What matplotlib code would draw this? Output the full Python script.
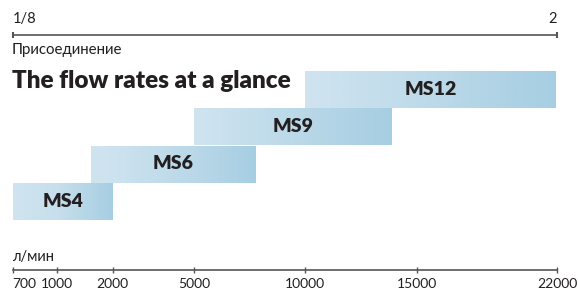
"""Flow-rate overview: MS4..MS12 ranges on a piecewise flow axis."""

import matplotlib
matplotlib.use("Agg")
import matplotlib.pyplot as plt
import numpy as np
from matplotlib.colors import LinearSegmentedColormap

# ---------------------------------------------------------------------------
# Data
# ---------------------------------------------------------------------------
MODELS = ["MS4", "MS6", "MS9", "MS12"]
FLOW_MIN = [700, 1600, 5000, 10000]      # l/min
FLOW_MAX = [2000, 7800, 13900, 22000]    # l/min

FLOW_TICKS = [700, 1000, 2000, 5000, 10000, 15000, 22000]
CONN_TICKS = [0, 1]
CONN_LABELS = ["1/8", "2"]

TITLE = "The flow rates at a glance"
CONN_NAME = "Присоединение"
FLOW_UNIT = "л/мин"

# ---------------------------------------------------------------------------
# Style
# ---------------------------------------------------------------------------
FONT = ["Lato", "Noto Sans", "DejaVu Sans"]
TEXT = "#231f20"
LINE = "#555555"
GRAD = LinearSegmentedColormap.from_list("bar", ["#d0e4f0", "#a6cee2"])

# the drawing uses a hand-made, piecewise flow axis; anchor positions in px
TICK_PX = [12.7, 57.3, 112.7, 194.0, 305.3, 416.7, 557.3]

W, H = 578, 292
plt.rcParams["font.family"] = FONT


def fwd(x):
    return np.interp(x, FLOW_TICKS, TICK_PX)


def inv(p):
    return np.interp(p, TICK_PX, FLOW_TICKS)


def fx(px):
    return px / W


def fy(px):
    return 1 - px / H


fig = plt.figure(figsize=(W / 100, H / 100), dpi=100)

x0, x1 = fx(TICK_PX[0]), fx(TICK_PX[-1])

# --- bars ------------------------------------------------------------------
ax = fig.add_axes([x0, fy(219.7), x1 - x0, fy(71) - fy(219.7)])
ax.set_xscale("function", functions=(fwd, inv))
ax.set_xlim(FLOW_TICKS[0], FLOW_TICKS[-1])
ax.set_ylim(0, len(MODELS))
grad = np.linspace(0, 1, 256).reshape(1, -1)
for i, (name, lo, hi) in enumerate(zip(MODELS, FLOW_MIN, FLOW_MAX)):
    ax.imshow(grad, cmap=GRAD, aspect="auto", extent=(lo, hi, i, i + 1),
              interpolation="bilinear", zorder=1)
    mid = inv((fwd(lo) + fwd(hi)) / 2)
    ax.text(mid, i + 0.5, name, ha="center", va="center", fontsize=14,
            fontweight=800, color=TEXT, zorder=2)
ax.set_xlim(FLOW_TICKS[0], FLOW_TICKS[-1])
ax.set_ylim(0, len(MODELS))
ax.set_axis_off()

# --- flow axis (bottom) ----------------------------------------------------
axb = fig.add_axes([x0, fy(269.7), x1 - x0, 0.001])
axb.set_xscale("function", functions=(fwd, inv))
axb.set_xlim(FLOW_TICKS[0], FLOW_TICKS[-1])
axb.set_xticks(FLOW_TICKS)
axb.set_xticklabels([str(v) for v in FLOW_TICKS])
axb.xaxis.set_minor_locator(matplotlib.ticker.NullLocator())
axb.set_yticks([])
for s in ("top", "left", "right"):
    axb.spines[s].set_visible(False)
axb.spines["bottom"].set_color(LINE)
axb.spines["bottom"].set_linewidth(1.2)
axb.tick_params(axis="x", direction="inout", length=5, width=1, color=LINE,
                labelsize=10, labelcolor=TEXT, pad=3.5)
axb.get_xticklabels()[0].set_ha("left")
axb.patch.set_visible(False)

# --- connection axis (top) -------------------------------------------------
axt = fig.add_axes([x0, fy(35), x1 - x0, 0.001])
axt.set_xlim(CONN_TICKS[0], CONN_TICKS[-1])
axt.xaxis.tick_top()
axt.set_xticks(CONN_TICKS)
axt.set_xticklabels(CONN_LABELS)
axt.set_yticks([])
for s in ("bottom", "left", "right"):
    axt.spines[s].set_visible(False)
axt.spines["top"].set_color(LINE)
axt.spines["top"].set_linewidth(1.2)
axt.tick_params(axis="x", direction="inout", length=4, width=1.5, color=LINE,
                labelsize=10.5, labelcolor=TEXT, pad=4)
axt.get_xticklabels()[0].set_ha("left")
axt.get_xticklabels()[1].set_ha("right")
axt.patch.set_visible(False)

# --- texts -----------------------------------------------------------------
fig.text(fx(12), fy(50), CONN_NAME, ha="left", va="center", fontsize=10.8,
         color=TEXT)
fig.text(fx(12), fy(87.7), TITLE, ha="left", va="baseline", fontsize=17.5,
         fontweight=800, color=TEXT)
fig.text(fx(12), fy(257.5), FLOW_UNIT, ha="left", va="center", fontsize=10.5,
         color=TEXT)

fig.savefig("out.png", dpi=100)
